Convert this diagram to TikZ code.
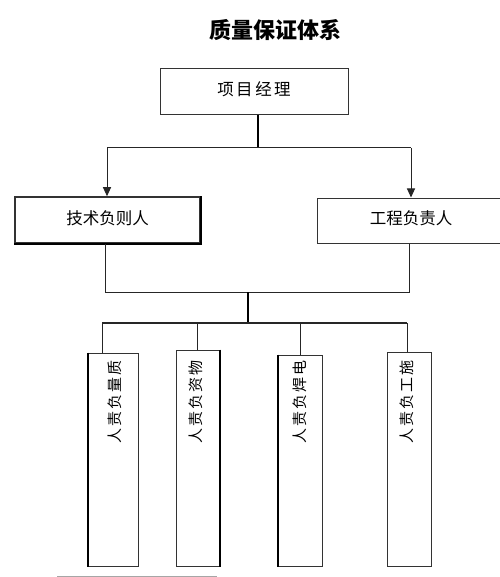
\documentclass[tikz,border=0pt]{standalone}
\usepackage{fontspec}
\newfontfamily\cjk{Noto Sans CJK SC}
\usetikzlibrary{arrows.meta}
\newcommand{\vc}[1]{\rotatebox{90}{#1}}
\begin{document}
\begin{tikzpicture}[x=1pt,y=-1pt,
  box/.style={draw=black!80, line width=1pt, rectangle, inner sep=0pt,
              font=\cjk\fontsize{16.5}{20}\selectfont},
  conn/.style={draw=black!85, line width=1pt},
  stem/.style={draw=black, line width=2pt},
  arr/.style={conn, -{Triangle[length=9pt,width=8pt]}},
  thickedge/.style={draw=black, line width=2pt},
  vtext/.style={font=\cjk\fontsize{15}{17}\selectfont, align=center, inner sep=0pt, anchor=north}
]
\useasboundingbox (0,0) rectangle (499,577);

% title
\node[font=\cjk\bfseries\fontsize{22}{26}\selectfont] (title) at (275,30) {质量保证体系};

% level 1
\node[box, minimum width=188pt, minimum height=46pt] (pm) at (254,92)
  {\raisebox{6pt}{项\hspace{2.5pt}目\hspace{2.5pt}经\hspace{2.5pt}理}};

% level 2
\node[box, line width=1.5pt, minimum width=185pt, minimum height=46pt] (tech) at (107.5,220)
  {\raisebox{5pt}{技术负则人}};
\node[box, minimum width=188pt, minimum height=45pt] (eng) at (411,220.5)
  {\raisebox{5pt}{工程负责人}};
\draw[thickedge] (tech.north east) -- (tech.south east) -- (tech.south west);

% level 3 boxes
\node[box, minimum width=50pt, minimum height=213pt] (q1) at (113,459.5) {};
\node[box, minimum width=43pt, minimum height=216pt] (q2) at (197.5,458) {};
\node[box, minimum width=44pt, minimum height=211.5pt] (q3) at (300,460.75) {};
\node[box, minimum width=44pt, minimum height=214pt] (q4) at (409,459) {};
\draw[thickedge] (q1.north west) -- (q1.south west);
\draw[thickedge] (q2.north east) -- (q2.south east);
\draw[thickedge] (q3.north west) -- (q3.south west);

% vertical texts
\node[vtext] (q1t) at (115,360) {\vc{质}\\\vc{量}\\\vc{负}\\\vc{责}\\\vc{人}};
\node[vtext] (q2t) at (196,360) {\vc{物}\\\vc{资}\\\vc{负}\\\vc{责}\\\vc{人}};
\node[vtext] (q3t) at (300,360) {\vc{电}\\\vc{焊}\\\vc{负}\\\vc{责}\\\vc{人}};
\node[vtext] (q4t) at (407,360) {\vc{施}\\\vc{工}\\\vc{负}\\\vc{责}\\\vc{人}};

% connectors level 1 -> 2
\coordinate (a) at (258,148);
\coordinate (al) at (107,148);
\coordinate (ar) at (411,148);
\draw[stem] (pm.south -| a) -- (a);
\draw[conn] (al) -- (ar);
\draw[arr] (al) -- (tech.north -| al);
\draw[arr] (ar) -- (eng.north -| ar);

% connectors level 2 -> 3
\coordinate (bl) at (105,292);
\coordinate (br) at (409,292);
\coordinate (b) at (248,292);
\coordinate (c) at (248,323);
\draw[conn] (tech.south -| bl) -- (bl) -- (br) -- (eng.south -| br);
\draw[stem] (b) -- (c);
\coordinate (c1) at (102,323);
\coordinate (c2) at (197,323);
\coordinate (c3) at (300,323);
\coordinate (c4) at (407,323);
\draw[conn, line width=1.5pt] (c1) -- (c4);
\draw[conn] (c1) -- (q1.north -| c1);
\draw[conn] (c2) -- (q2.north -| c2);
\draw[conn] (c3) -- (q3.north -| c3);
\draw[conn] (c4) -- (q4.north -| c4);

% bottom rule
\draw[draw=black!35, line width=1pt] (57,576) -- (217,576);
\end{tikzpicture}
\end{document}
